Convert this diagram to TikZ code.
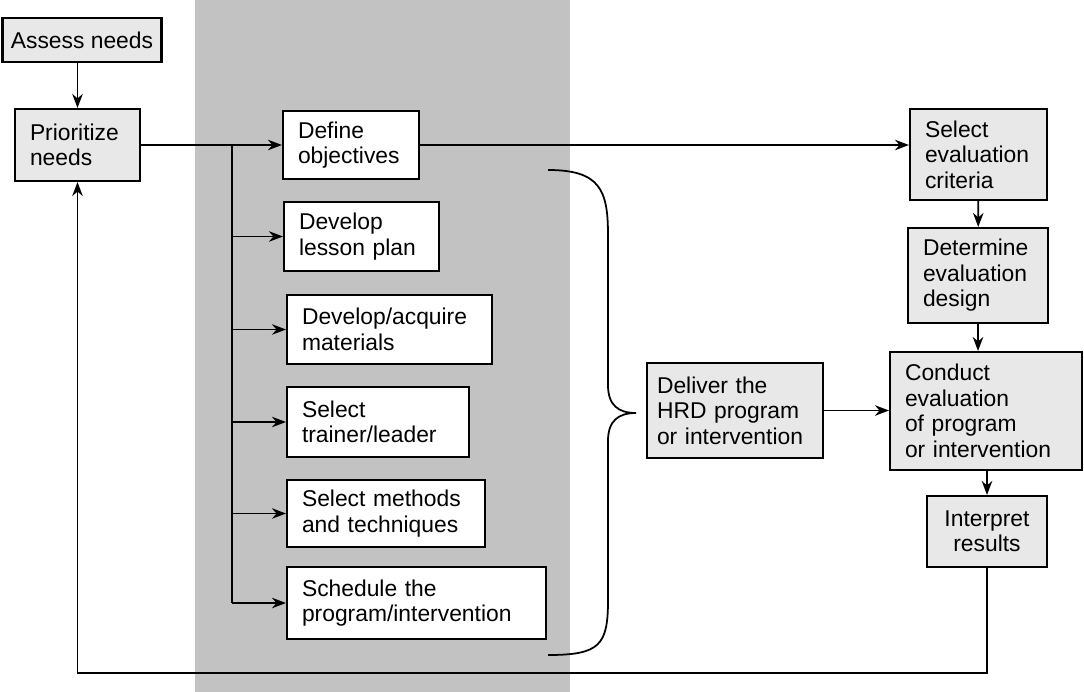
\documentclass[tikz,border=0pt]{standalone}
\usepackage{fontspec}
\setmainfont{Liberation Sans}
\usetikzlibrary{arrows.meta}
\begin{document}
\begin{tikzpicture}[
    x=0.02cm, y=-0.02cm,
    font=\fontsize{13}{14.5}\selectfont,
    stage/.style={draw, line width=1.2pt, fill=white, align=left,
      inner xsep=0.3cm, inner ysep=2pt},
    given/.style={stage, fill=gray!18},
    flow/.style={line width=1pt, ->, >={Stealth[length=8pt,width=6pt]}},
  ]
  \useasboundingbox (0,0) rectangle (1084,692);
  % shaded column behind the design steps
  \fill[gray!48] (195,0) rectangle (570,692);

  % needs assessment
  \node[given, align=center, inner xsep=0.1cm, minimum width=3.18cm,
    minimum height=0.88cm] (assess) at (82,40) {Assess needs};
  \node[given, text width=1.9cm, minimum height=1.44cm] (prior) at (77.5,145)
    {Prioritize\\needs};

  % design
  \node[stage, text width=2.12cm, minimum height=1.36cm] (define) at (351,145)
    {Define\\objectives};
  \node[stage, text width=2.5cm, minimum height=1.38cm] (lesson) at (361.5,236.5)
    {Develop\\lesson plan};
  \node[stage, text width=3.5cm, minimum height=1.38cm] (materials) at (389.5,329.5)
    {Develop/acquire\\materials};
  \node[stage, text width=3.04cm, minimum height=1.4cm] (trainer) at (378,422)
    {Select\\trainer/leader};
  \node[stage, text width=3.36cm, minimum height=1.34cm] (methods) at (386,513.5)
    {Select methods\\and techniques};
  \node[stage, text width=4.58cm, minimum height=1.44cm] (schedule) at (416.5,603)
    {Schedule the\\program/intervention};

  % implementation
  \node[given, text width=3.12cm, inner xsep=0.2cm, minimum height=1.9cm] (deliver)
    at (735,410.5) {Deliver the\\HRD program\\or intervention};

  % evaluation
  \node[given, text width=2.14cm, minimum height=1.82cm] (criteria) at (978.5,154.5)
    {Select\\evaluation\\criteria};
  \node[given, text width=2.2cm, minimum height=1.9cm] (design) at (978,275.5)
    {Determine\\evaluation\\design};
  \node[given, text width=3.24cm, minimum height=2.36cm] (conduct) at (986,411)
    {Conduct\\evaluation\\of program\\or intervention};
  \node[given, align=center, text width=1.8cm, minimum height=1.42cm] (interpret)
    at (987,531.5) {Interpret\\results};

  % connectors
  \coordinate (spine) at (232,145);
  \coordinate (back) at (77.5,673);
  \draw[flow] (assess.south -| prior) -- (prior);
  \draw[flow] (prior) -- (define);
  \draw[line width=1pt] (spine) -- (spine |- schedule.west);
  \foreach \step in {lesson,materials,trainer,methods,schedule}
    \draw[flow] (spine |- \step.west) -- (\step.west);
  \draw[flow] (define.east) -- (define.east -| criteria.west);
  \draw[flow] (criteria) -- (design);
  \draw[flow] (design.south) -- (design.south |- conduct.north);
  \draw[flow] (deliver.east) -- (deliver.east -| conduct.west);
  \draw[flow] (interpret.north |- conduct.south) -- (interpret.north);
  \draw[flow] (interpret.south) |- (back) -- (prior.south);

  % brace over the design steps
  \draw[line width=1pt] (548,170) .. controls (600,170) and (608,190) .. (608,235)
    -- (608,385) .. controls (608,405) and (618,413) .. (636,413)
    .. controls (618,413) and (608,421) .. (608,441)
    -- (608,600) .. controls (608,645) and (600,655) .. (548,655);
\end{tikzpicture}
\end{document}
